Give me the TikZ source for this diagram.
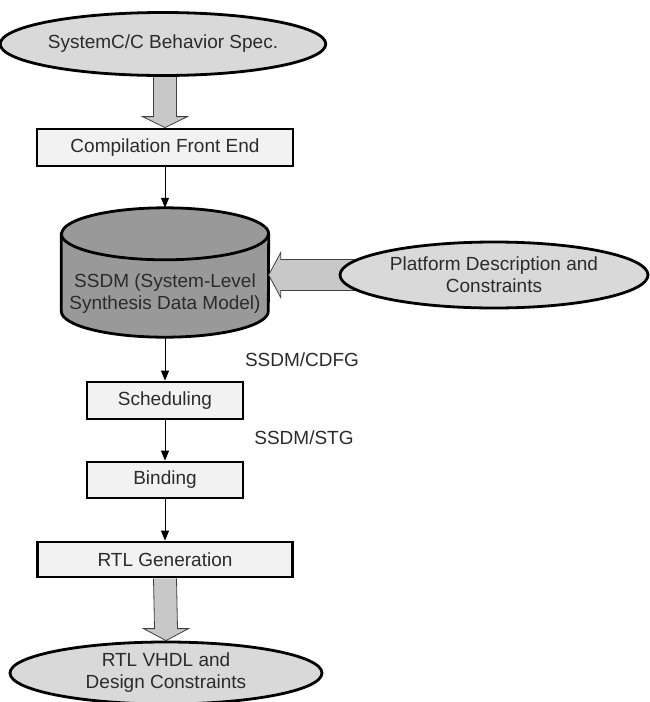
\documentclass[tikz,border=0pt]{standalone}
\usepackage{fontspec}
\setmainfont{Liberation Sans}
\usetikzlibrary{arrows.meta,calc,backgrounds,shapes.geometric}

\definecolor{txtgray}{HTML}{2B2B2B}
\definecolor{ellfill}{HTML}{D9D9D9}
\definecolor{boxfill}{HTML}{F2F2F2}
\definecolor{cylfill}{HTML}{999999}
\definecolor{arrowfill}{HTML}{C8C8C8}
\definecolor{arrowline}{HTML}{404040}

\begin{document}
\begin{tikzpicture}[x=1pt, y=-1pt,
    every node/.style={font=\fontsize{19}{22}\selectfont, text=txtgray, align=center},
    io/.style={ellipse, draw=black, line width=2.8pt, fill=ellfill, inner sep=0pt},
    stepbox/.style={rectangle, draw=black, line width=2.8pt, fill=boxfill, inner sep=0pt},
    flow/.style={-{Triangle[length=10pt,width=8pt]}, line width=1pt, black},
    fatarrow/.style={draw=arrowline, fill=arrowfill, line width=0.8pt},
    cyl/.style={draw=black, line width=2.8pt, fill=cylfill}]
    \useasboundingbox (0,0) rectangle (649,702);

    % Input specification
    \node[io, minimum width=319pt, minimum height=63pt] (spec) at (163,44) {SystemC/C Behavior Spec.};
    \node[stepbox, minimum width=256pt, minimum height=37pt] (front) at (165,147.5) {Compilation Front End};

    % Data model (cylinder drawn below on the background layer)
    \node[minimum width=207pt, minimum height=129pt, inner sep=0pt] (ssdm) at (165,272.5) {};
    \node (ssdmtext) at (165,294) {SSDM (System-Level\\Synthesis Data Model)};
    \node[io, minimum width=308pt, minimum height=66pt] (plat) at (494,275)
        {Platform Description and\\Constraints};

    % Synthesis steps
    \node[stepbox, minimum width=156pt, minimum height=37pt] (sched) at (165,400.5) {Scheduling};
    \node[stepbox, minimum width=156pt, minimum height=36pt] (bind) at (165,480) {Binding};
    \node[stepbox, minimum width=255pt, minimum height=35pt] (rtl) at (165,559.5) {RTL Generation};

    % Output
    \node[io, minimum width=312pt, minimum height=62pt] (out) at (166,673) {RTL VHDL and\\Design Constraints};

    % Intermediate representations
    \node (cdfg) at (302,360) {SSDM/CDFG};
    \node (stg) at (304,438) {SSDM/STG};

    % Thin flow arrows
    \draw[flow] (front.south) -- (ssdm.north);
    \draw[flow] (ssdm.south) -- (sched.north);
    \draw[flow] (sched.south) -- (bind.north);
    \draw[flow] (bind.south) -- (rtl.north);

    \coordinate (tipA) at (ssdm.east |- plat.west);

    \begin{pgfonlayer}{background}
        % Cylinder body and top ellipse
        \draw[cyl] ($(ssdm.north west)+(0,26)$) -- ($(ssdm.south west)+(0,-26)$)
            arc[start angle=180, end angle=0, x radius=103.5, y radius=26]
            -- ($(ssdm.north east)+(0,26)$)
            arc[start angle=0, end angle=-180, x radius=103.5, y radius=26] -- cycle;
        \draw[line width=2.8pt] ($(ssdm.north west)+(0,26)$)
            arc[start angle=180, end angle=0, x radius=103.5, y radius=26];

        % Fat arrow: spec -> front end
        \draw[fatarrow] ($(front.north |- spec.center)+(-11.5,0)$) -- ($(front.north)+(-11.5,-11)$)
            -- ($(front.north)+(-22.5,-11)$) -- (front.north) -- ($(front.north)+(22.5,-11)$)
            -- ($(front.north)+(11.5,-11)$) -- ($(front.north |- spec.center)+(11.5,0)$);

        % Fat arrow: platform -> data model
        \draw[fatarrow] ($(plat.center)+(0,-15.5)$) -- ($(tipA)+(12,-15.5)$)
            -- ($(tipA)+(12,-22.5)$) -- (tipA) -- ($(tipA)+(12,22.5)$)
            -- ($(tipA)+(12,15.5)$) -- ($(plat.center)+(0,15.5)$);

        % Fat arrow: RTL generation -> output
        \draw[fatarrow] ($(rtl.south)+(-11.5,0)$) -- ($(out.north)+(-11.5,-12)$)
            -- ($(out.north)+(-22.5,-12)$) -- (out.north) -- ($(out.north)+(22.5,-12)$)
            -- ($(out.north)+(11.5,-12)$) -- ($(rtl.south)+(11.5,0)$);
    \end{pgfonlayer}
\end{tikzpicture}
\end{document}
